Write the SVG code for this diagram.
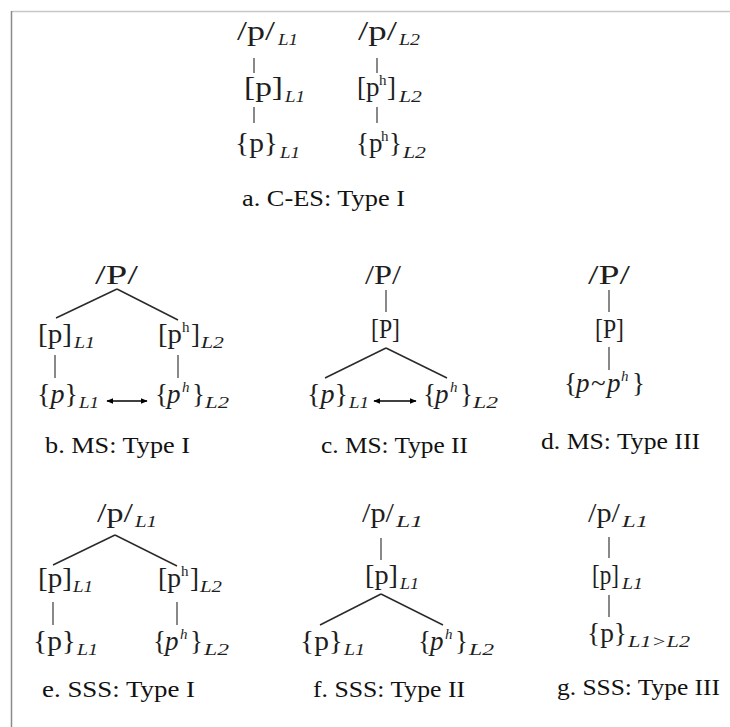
<svg xmlns="http://www.w3.org/2000/svg" width="730" height="727" viewBox="0 0 730 727">
  <style>
    text { font-family: 'Liberation Serif', serif; }
    .m { font-size: 27px; fill: #1e1e1e; }
    .i { font-style: italic; }
    .s { font-size: 16px; font-style: italic; fill: #1e1e1e; }
    .h { font-size: 15px; }
    .lab { font-size: 24px; fill: #111; }
    .br { stroke: #2a2a2a; stroke-width: 1.5; fill: none; }
    .st { stroke: #3a3a3a; stroke-width: 1.2; fill: none; }
    .ar { stroke: #000; stroke-width: 1.6; fill: none; marker-start: url(#hd); marker-end: url(#hd); }
  </style>
  <defs>
    <marker id="hd" viewBox="0 0 10 10" refX="9" refY="5" markerWidth="7" markerHeight="7" markerUnits="userSpaceOnUse" orient="auto-start-reverse">
      <path d="M0,1 L10,5 L0,9 Z" fill="#000"/>
    </marker>
  </defs>
  <rect width="730" height="727" fill="#fff"/>

  <!-- frame -->
  <line x1="11.5" y1="11.5" x2="730" y2="11.5" stroke="#c8c8c8" stroke-width="1.5"/>
  <line x1="11.5" y1="11" x2="11.5" y2="727" stroke="#8a8a8a" stroke-width="1.5"/>

  <!-- connectors -->
  <g id="connectors">
    <!-- a -->
    <line class="st" x1="254" y1="58" x2="254" y2="73"/>
    <line class="st" x1="254" y1="107" x2="254" y2="123"/>
    <line class="st" x1="377" y1="58" x2="377" y2="73"/>
    <line class="st" x1="377" y1="107" x2="377" y2="123"/>
    <!-- b -->
    <line class="br" x1="117" y1="289" x2="56" y2="318"/>
    <line class="br" x1="117" y1="289" x2="178" y2="320"/>
    <line class="st" x1="55" y1="355" x2="55" y2="378"/>
    <line class="st" x1="178" y1="355" x2="178" y2="378"/>
    <line class="ar" x1="107" y1="401" x2="147" y2="401"/>
    <!-- c -->
    <line class="st" x1="386" y1="290" x2="386" y2="312"/>
    <line class="br" x1="386" y1="348" x2="325" y2="378"/>
    <line class="br" x1="386" y1="348" x2="447" y2="378"/>
    <line class="ar" x1="374" y1="401" x2="416" y2="401"/>
    <!-- d -->
    <line class="st" x1="609" y1="290" x2="609" y2="312"/>
    <line class="st" x1="609" y1="347" x2="609" y2="370"/>
    <!-- e -->
    <line class="br" x1="115" y1="535" x2="53" y2="565"/>
    <line class="br" x1="115" y1="535" x2="177" y2="566"/>
    <line class="st" x1="53" y1="602" x2="53" y2="625"/>
    <line class="st" x1="177" y1="602" x2="177" y2="625"/>
    <!-- f -->
    <line class="st" x1="381" y1="538" x2="381" y2="560"/>
    <line class="br" x1="381" y1="594" x2="320" y2="625"/>
    <line class="br" x1="381" y1="594" x2="443" y2="625"/>
    <!-- g -->
    <line class="st" x1="609" y1="537" x2="609" y2="558"/>
    <line class="st" x1="609" y1="595" x2="609" y2="617"/>
  </g>

  <!-- a. C-ES: Type I -->
  <g id="a-phon-l1">
    <text class="m" x="237" y="40" textLength="38" lengthAdjust="spacingAndGlyphs">/p/</text>
    <text class="s" x="278" y="45" textLength="20" lengthAdjust="spacingAndGlyphs">L1</text>
  </g>
  <g id="a-phon-l2">
    <text class="m" x="358" y="40" textLength="39" lengthAdjust="spacingAndGlyphs">/p/</text>
    <text class="s" x="399" y="45" textLength="21" lengthAdjust="spacingAndGlyphs">L2</text>
  </g>
  <g id="a-phonet-l1">
    <text class="m" x="244" y="96" textLength="39" lengthAdjust="spacingAndGlyphs">[p]</text>
    <text class="s" x="285" y="102" textLength="20" lengthAdjust="spacingAndGlyphs">L1</text>
  </g>
  <g id="a-phonet-l2">
    <text class="m"><tspan x="357" y="96">[p</tspan><tspan class="h" x="379" y="85">h</tspan><tspan x="387" y="96">]</tspan></text>
    <text class="s" x="399" y="102" textLength="23" lengthAdjust="spacingAndGlyphs">L2</text>
  </g>
  <g id="a-exem-l1">
    <text class="m" x="235" y="152" textLength="43" lengthAdjust="spacingAndGlyphs">{p}</text>
    <text class="s" x="280" y="158" textLength="20" lengthAdjust="spacingAndGlyphs">L1</text>
  </g>
  <g id="a-exem-l2">
    <text class="m"><tspan x="356" y="152">{p</tspan><tspan class="h" x="381" y="141">h</tspan><tspan x="389" y="152">}</tspan></text>
    <text class="s" x="403" y="158" textLength="23" lengthAdjust="spacingAndGlyphs">L2</text>
  </g>
  <text id="label-a" class="lab" x="242" y="206" textLength="163" lengthAdjust="spacingAndGlyphs">a. C-ES: Type I</text>

  <!-- b. MS: Type I -->
  <g id="b-phon">
    <text class="m" x="95" y="284" textLength="43" lengthAdjust="spacingAndGlyphs">/P/</text>
  </g>
  <g id="b-phonet-l1">
    <text class="m" x="38" y="343" textLength="34" lengthAdjust="spacingAndGlyphs">[p]</text>
    <text class="s" x="74" y="348" textLength="21" lengthAdjust="spacingAndGlyphs">L1</text>
  </g>
  <g id="b-phonet-l2">
    <text class="m"><tspan x="158" y="343" textLength="24" lengthAdjust="spacingAndGlyphs">[p</tspan><tspan class="h" x="182" y="332">h</tspan><tspan x="191" y="343">]</tspan></text>
    <text class="s" x="201" y="348" textLength="23" lengthAdjust="spacingAndGlyphs">L2</text>
  </g>
  <g id="b-exem-l1">
    <text class="m" x="37" y="403" textLength="41" lengthAdjust="spacingAndGlyphs">{<tspan class="i">p</tspan>}</text>
    <text class="s" x="79" y="408" textLength="20" lengthAdjust="spacingAndGlyphs">L1</text>
  </g>
  <g id="b-exem-l2">
    <text class="m"><tspan x="155" y="403">{</tspan><tspan class="i" x="167" y="403">p</tspan><tspan class="h i" x="182" y="392">h</tspan><tspan x="192" y="403">}</tspan></text>
    <text class="s" x="205" y="408" textLength="24" lengthAdjust="spacingAndGlyphs">L2</text>
  </g>
  <text id="label-b" class="lab" x="45" y="453" textLength="145" lengthAdjust="spacingAndGlyphs">b. MS: Type I</text>

  <!-- c. MS: Type II -->
  <g id="c-phon">
    <text class="m" x="365" y="284" textLength="36" lengthAdjust="spacingAndGlyphs">/P/</text>
  </g>
  <g id="c-phonet">
    <text class="m" x="371" y="338" textLength="29" lengthAdjust="spacingAndGlyphs">[P]</text>
  </g>
  <g id="c-exem-l1">
    <text class="m" x="307" y="403" textLength="41" lengthAdjust="spacingAndGlyphs">{<tspan class="i">p</tspan>}</text>
    <text class="s" x="349" y="408" textLength="20" lengthAdjust="spacingAndGlyphs">L1</text>
  </g>
  <g id="c-exem-l2">
    <text class="m"><tspan x="423" y="403">{</tspan><tspan class="i" x="435" y="403">p</tspan><tspan class="h i" x="450" y="392">h</tspan><tspan x="460" y="403">}</tspan></text>
    <text class="s" x="473" y="408" textLength="25" lengthAdjust="spacingAndGlyphs">L2</text>
  </g>
  <text id="label-c" class="lab" x="321" y="453" textLength="147" lengthAdjust="spacingAndGlyphs">c. MS: Type II</text>

  <!-- d. MS: Type III -->
  <g id="d-phon">
    <text class="m" x="588" y="284" textLength="42" lengthAdjust="spacingAndGlyphs">/P/</text>
  </g>
  <g id="d-phonet">
    <text class="m" x="595" y="338" textLength="29" lengthAdjust="spacingAndGlyphs">[P]</text>
  </g>
  <g id="d-exem">
    <text class="m"><tspan x="564" y="392">{</tspan><tspan class="i" x="576" y="392">p</tspan><tspan x="591" y="392">~</tspan><tspan class="i" x="607" y="392">p</tspan><tspan class="h i" x="621" y="381">h</tspan><tspan x="632" y="392">}</tspan></text>
  </g>
  <text id="label-d" class="lab" x="541" y="449" textLength="159" lengthAdjust="spacingAndGlyphs">d. MS: Type III</text>

  <!-- e. SSS: Type I -->
  <g id="e-phon">
    <text class="m" x="97" y="522" textLength="36" lengthAdjust="spacingAndGlyphs">/p/</text>
    <text class="s" x="135" y="527" textLength="22" lengthAdjust="spacingAndGlyphs">L1</text>
  </g>
  <g id="e-phonet-l1">
    <text class="m" x="38" y="587" textLength="34" lengthAdjust="spacingAndGlyphs">[p]</text>
    <text class="s" x="73" y="592" textLength="20" lengthAdjust="spacingAndGlyphs">L1</text>
  </g>
  <g id="e-phonet-l2">
    <text class="m"><tspan x="158" y="587" textLength="23" lengthAdjust="spacingAndGlyphs">[p</tspan><tspan class="h" x="181" y="576">h</tspan><tspan x="190" y="587">]</tspan></text>
    <text class="s" x="200" y="592" textLength="22" lengthAdjust="spacingAndGlyphs">L2</text>
  </g>
  <g id="e-exem-l1">
    <text class="m" x="33" y="650" textLength="43" lengthAdjust="spacingAndGlyphs">{p}</text>
    <text class="s" x="77" y="655" textLength="21" lengthAdjust="spacingAndGlyphs">L1</text>
  </g>
  <g id="e-exem-l2">
    <text class="m"><tspan x="153" y="650">{</tspan><tspan class="i" x="165" y="650">p</tspan><tspan class="h i" x="180" y="639">h</tspan><tspan x="190" y="650">}</tspan></text>
    <text class="s" x="204" y="655" textLength="25" lengthAdjust="spacingAndGlyphs">L2</text>
  </g>
  <text id="label-e" class="lab" x="42" y="697" textLength="153" lengthAdjust="spacingAndGlyphs">e. SSS: Type I</text>

  <!-- f. SSS: Type II -->
  <g id="f-phon">
    <text class="m" x="362" y="522" textLength="32" lengthAdjust="spacingAndGlyphs">/p/</text>
    <text class="s" x="396" y="527" textLength="27" lengthAdjust="spacingAndGlyphs">L1</text>
  </g>
  <g id="f-phonet">
    <text class="m" x="365" y="584" textLength="33" lengthAdjust="spacingAndGlyphs">[p]</text>
    <text class="s" x="400" y="589" textLength="19" lengthAdjust="spacingAndGlyphs">L1</text>
  </g>
  <g id="f-exem-l1">
    <text class="m" x="300" y="650" textLength="43" lengthAdjust="spacingAndGlyphs">{p}</text>
    <text class="s" x="344" y="655" textLength="21" lengthAdjust="spacingAndGlyphs">L1</text>
  </g>
  <g id="f-exem-l2">
    <text class="m"><tspan x="418" y="650">{</tspan><tspan class="i" x="430" y="650">p</tspan><tspan class="h i" x="445" y="639">h</tspan><tspan x="455" y="650">}</tspan></text>
    <text class="s" x="469" y="655" textLength="25" lengthAdjust="spacingAndGlyphs">L2</text>
  </g>
  <text id="label-f" class="lab" x="313" y="697" textLength="152" lengthAdjust="spacingAndGlyphs">f. SSS: Type II</text>

  <!-- g. SSS: Type III -->
  <g id="g-phon">
    <text class="m" x="588" y="522" textLength="32" lengthAdjust="spacingAndGlyphs">/p/</text>
    <text class="s" x="622" y="527" textLength="26" lengthAdjust="spacingAndGlyphs">L1</text>
  </g>
  <g id="g-phonet">
    <text class="m" x="592" y="584" textLength="27" lengthAdjust="spacingAndGlyphs">[p]</text>
    <text class="s" x="622" y="589" textLength="21" lengthAdjust="spacingAndGlyphs">L1</text>
  </g>
  <g id="g-exem">
    <text class="m" x="587" y="642" textLength="40" lengthAdjust="spacingAndGlyphs">{p}</text>
    <text class="s" x="628" y="647" textLength="62" lengthAdjust="spacingAndGlyphs">L1&gt;L2</text>
  </g>
  <text id="label-g" class="lab" x="557" y="695" textLength="163" lengthAdjust="spacingAndGlyphs">g. SSS: Type III</text>
</svg>
